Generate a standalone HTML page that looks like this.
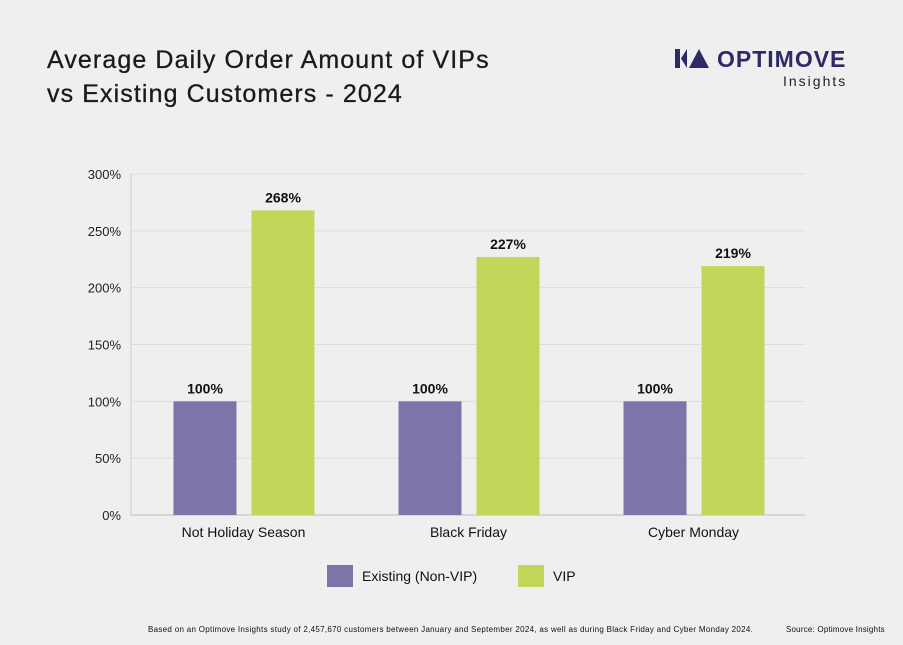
<!DOCTYPE html>
<html><head><meta charset="utf-8"><style>
body{margin:0;width:903px;height:645px;background:#efefef;font-family:"Liberation Sans",sans-serif;overflow:hidden;position:relative}
.t{position:absolute;color:#111}
</style></head><body>
<div class="t" style="left:47px;top:43px;font-size:25px;line-height:34px;color:#1a1a1a;letter-spacing:1.1px;-webkit-text-stroke:0.3px #1a1a1a">Average Daily Order Amount of VIPs<br>vs Existing Customers - 2024</div>
<div style="position:absolute;left:675px;top:49px;">
<svg width="40" height="20"><rect x="0" y="0" width="5" height="19" fill="#2e2a66"/><polygon points="6,9.5 12,0 12,19" fill="#2e2a66"/><polygon points="14,19 24,0 34,19" fill="#2e2a66"/></svg>
<span style="position:absolute;left:42px;top:-3px;font-size:23px;font-weight:bold;color:#2e2a66;letter-spacing:1px">OPTIMOVE</span>
<span style="position:absolute;left:108px;top:24px;font-size:14px;color:#222;letter-spacing:2px">Insights</span>
</div>
<svg id="c" width="903" height="645" style="position:absolute;left:0;top:0"></svg>
<div class="t" style="left:148px;top:625px;font-size:8px;letter-spacing:0.3px">Based on an Optimove Insights study of 2,457,670 customers between January and September 2024, as well as during Black Friday and Cyber Monday 2024.</div>
<div class="t" style="left:786px;top:625px;font-size:8px;letter-spacing:0.2px">Source: Optimove Insights</div>
<script>
const categories=["Not Holiday Season","Black Friday","Cyber Monday"];
const existing=[100,100,100];
const vip=[268,227,219];
const yTicks=[0,50,100,150,200,250,300];
const svg=document.getElementById('c');const NS="http://www.w3.org/2000/svg";
function y(v){return 515-v*341/300;}
function x(i){return 243.5+i*225;}
function mk(t,a,txt){const e=document.createElementNS(NS,t);for(const k in a)e.setAttribute(k,a[k]);if(txt!==undefined)e.textContent=txt;svg.appendChild(e);return e;}
yTicks.forEach(v=>{
 const g=mk('line',{x1:131,x2:805,y1:y(v),y2:y(v),stroke:v===0?'#bbb':'#ddd','stroke-width':1});
 
 
 const t=mk('text',{x:121,y:y(v)+5,'text-anchor':'end','font-size':13,fill:'#222'},v+'%');
 
 
});
const ax=mk('line',{x1:131,x2:131,y1:174,y2:515,stroke:'#ccc'});


categories.forEach((c,i)=>{
 const cx=x(i);
 [[existing[i],-70,'#7c75a9','existing'],[vip[i],8,'#c4d65a','vip']].forEach(([v,o,col,n])=>{
  const r=mk('rect',{x:cx+o,y:y(v),width:63,height:515-y(v),fill:col});
  
  
  const l=mk('text',{x:cx+o+31.5,y:y(v)-8,'text-anchor':'middle','font-size':14,'font-weight':'bold',fill:'#111'},v+'%');
  
  
 });
 const t=mk('text',{x:cx,y:537,'text-anchor':'middle','font-size':14,fill:'#111'},c);
 
 
});
[[327,'#7c75a9','Existing (Non-VIP)','legend-existing'],[518,'#c4d65a','VIP','legend-vip']].forEach(([lx,col,txt,n])=>{
 const r=mk('rect',{x:lx,y:565,width:26,height:22,fill:col});
 
 
 const t=mk('text',{x:lx+35,y:581,'font-size':14,fill:'#111'},txt);
 
 
});
</script>
</body></html>
